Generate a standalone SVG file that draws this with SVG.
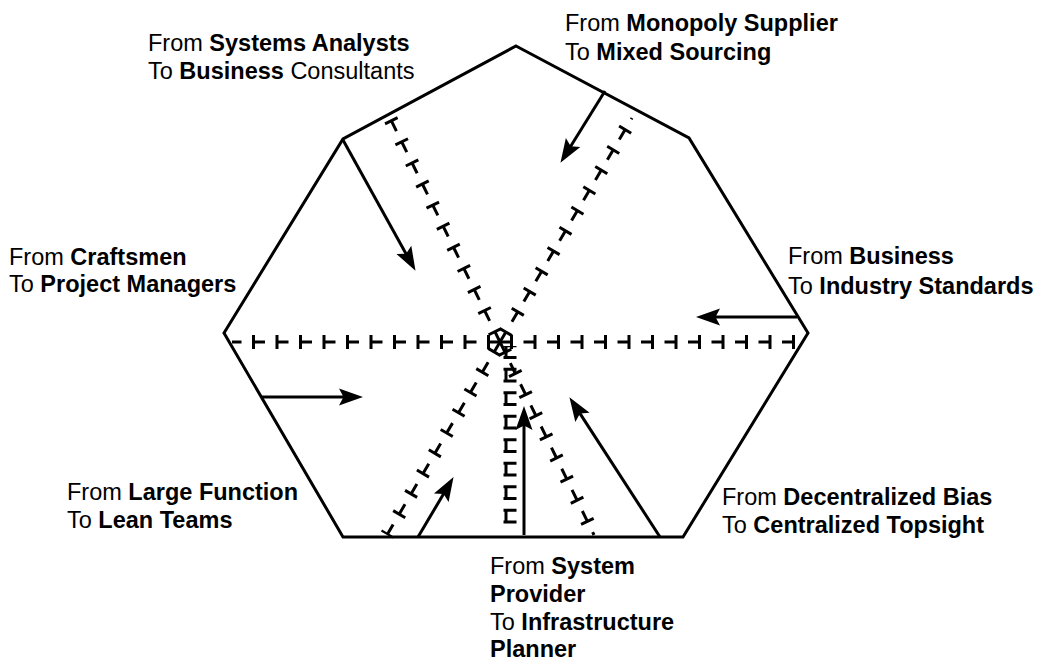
<svg xmlns="http://www.w3.org/2000/svg" xmlns:xlink="http://www.w3.org/1999/xlink" width="1043" height="661" viewBox="0 0 1043 661">
<style>
.frame{fill:none;stroke:#000;stroke-width:3;stroke-linejoin:miter}
.arr{fill:none;stroke:#000;stroke-width:3;marker-end:url(#ah)}
.td{fill:none;stroke:#000;stroke-width:3;stroke-dasharray:11 12.5}
.tt{fill:none;stroke:#000;stroke-width:14;stroke-dasharray:3 20.5;stroke-dashoffset:-10}
.tv{fill:none;stroke:#000;stroke-width:13;stroke-dasharray:3 8.75;stroke-dashoffset:-10}
text{font-family:"Liberation Sans",Arial,Helvetica,sans-serif;font-size:23.5px;fill:#000}
.b{font-weight:bold}
</style>
<defs>
<marker id="ah" markerUnits="userSpaceOnUse" markerWidth="26" markerHeight="20" refX="11" refY="10" orient="auto">
<path d="M0,1.5 L24,10 L0,18.5 L4.5,10 z" fill="#000"/>
</marker>
<path id="hR" d="M500,342 L797,342"/>
<path id="hL" d="M500,342 L232,342"/>
<path id="dUL" d="M500,342 L390,118"/>
<path id="dDR" d="M500,342 L594,535"/>
<path id="dUR" d="M500,342 L632,118"/>
<path id="dDL" d="M500,342 L387,535"/>
<path id="vD" d="M506,346 L506,530"/>
</defs>
<g id="frame">
<polygon class="frame" points="516,46 689,138 808,333 683,537 343,537 224,333 343,139"/>
</g>
<g id="connectors">
<g id="tick-lines">
<use xlink:href="#hR" class="td"/><use xlink:href="#hR" class="tt"/>
<use xlink:href="#hL" class="td"/><use xlink:href="#hL" class="tt"/>
<use xlink:href="#dUL" class="td"/><use xlink:href="#dUL" class="tt"/>
<use xlink:href="#dDR" class="td"/><use xlink:href="#dDR" class="tt"/>
<use xlink:href="#dUR" class="td"/><use xlink:href="#dUR" class="tt"/>
<use xlink:href="#dDL" class="td"/><use xlink:href="#dDL" class="tt"/>
<use xlink:href="#vD" class="td"/><use xlink:href="#vD" class="tv" transform="translate(4,0)"/>
</g>
<g id="arrows">
<path class="arr" d="M343,140 L409.2,259.5"/>
<path class="arr" d="M605,91 L567.3,151.8"/>
<path class="arr" d="M797,317 L709,317"/>
<path class="arr" d="M262,397 L350,397"/>
<path class="arr" d="M418,537 L446.9,488.3"/>
<path class="arr" d="M524,535 L524,419"/>
<path class="arr" d="M660,537 L576.5,408.1"/>
</g>
</g>
<g id="label-systems">
<text x="148" y="51">From <tspan class="b">Systems Analysts</tspan></text>
<text x="148" y="79">To <tspan class="b">Business</tspan> Consultants</text>
</g>
<g id="label-monopoly">
<text x="565" y="31">From <tspan class="b">Monopoly Supplier</tspan></text>
<text x="565" y="60">To <tspan class="b">Mixed Sourcing</tspan></text>
</g>
<g id="label-craftsmen">
<text x="9" y="265">From <tspan class="b">Craftsmen</tspan></text>
<text x="9" y="292">To <tspan class="b">Project Managers</tspan></text>
</g>
<g id="label-business">
<text x="788" y="264">From <tspan class="b">Business</tspan></text>
<text x="788" y="294">To <tspan class="b">Industry Standards</tspan></text>
</g>
<g id="label-large">
<text x="67" y="500">From <tspan class="b">Large Function</tspan></text>
<text x="67" y="528">To <tspan class="b">Lean Teams</tspan></text>
</g>
<g id="label-decentral">
<text x="722" y="505">From <tspan class="b">Decentralized Bias</tspan></text>
<text x="722" y="533">To <tspan class="b">Centralized Topsight</tspan></text>
</g>
<g id="label-system">
<text x="490" y="574">From <tspan class="b">System</tspan></text>
<text x="490" y="602" class="b">Provider</text>
<text x="490" y="630">To <tspan class="b">Infrastructure</tspan></text>
<text x="490" y="657" class="b">Planner</text>
</g>
</svg>
